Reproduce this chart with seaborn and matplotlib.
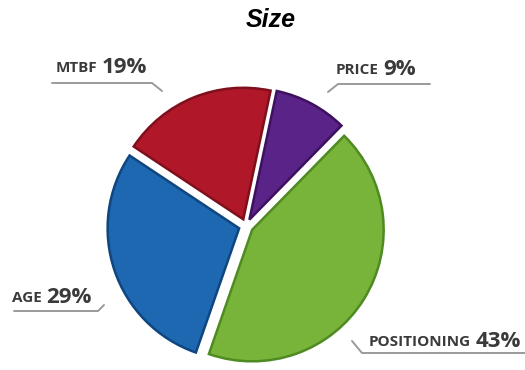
import matplotlib
matplotlib.use("Agg")
import matplotlib.pyplot as plt
from matplotlib.lines import Line2D
import seaborn as sns

# Share of each factor, clockwise from the top
categories = ["PRICE", "POSITIONING", "AGE", "MTBF"]
shares = [9, 43, 29, 19]
fill_colors = ["#5a2387", "#78b43a", "#1d68b0", "#b0182a"]
edge_colors = ["#3e1060", "#4f8a22", "#0f4680", "#7e0f1c"]

sns.set_theme(style="white")
plt.rcParams["font.family"] = ["Open Sans", "DejaVu Sans"]

W, H = 525, 370
fig = plt.figure(figsize=(W / 100, H / 100), dpi=100)
fig.patch.set_facecolor("white")

R = 137  # pie radius in pixels
cx, cy = 246, 370 - 226
half = 1.2 * R
ax = fig.add_axes([(cx - half) / W, (cy - half) / H, 2 * half / W, 2 * half / H])
ax.set_xlim(-1.2, 1.2)
ax.set_ylim(-1.2, 1.2)
ax.set_aspect("equal")
ax.axis("off")

wedges, _ = ax.pie(
    shares,
    startangle=78,
    counterclock=False,
    colors=fill_colors,
    explode=[0.055] * len(shares),
    wedgeprops=dict(linewidth=1.8),
)
for w, ec in zip(wedges, edge_colors):
    w.set_edgecolor(ec)

fig.text(271 / W, 1 - 20 / H, "Size", ha="center", va="center",
         fontsize=18, fontweight="bold", fontstyle="italic",
         family=["Liberation Sans", "DejaVu Sans"], color="black")

label_pos = {
    "MTBF": (56, 68),
    "PRICE": (336, 70),
    "AGE": (12, 298),
    "POSITIONING": (369, 342),
}
underline = {
    "MTBF": [(52, 83), (152, 83), (162, 91)],
    "PRICE": [(328, 92), (338, 84), (430, 84)],
    "AGE": [(14, 311), (98, 311), (104, 305)],
    "POSITIONING": [(352, 341), (362, 353), (525, 353)],
}

for name, val in zip(categories, shares):
    x, y = label_pos[name]
    t = fig.text(x / W, 1 - y / H, name, ha="left", va="center",
                 fontsize=11, fontweight="bold", color="#3a3a3a")
    ax.annotate(f"{val}%", xy=(1, 0.5), xycoords=t, xytext=(3, 0.5),
                textcoords="offset points", ha="left", va="center",
                fontsize=16, fontweight="bold", color="#3a3a3a",
                annotation_clip=False)
    pts = underline[name]
    xs = [p[0] / W for p in pts]
    ys = [1 - p[1] / H for p in pts]
    fig.add_artist(Line2D(xs, ys, color="#9a9a9a", linewidth=1.4,
                          transform=fig.transFigure))

fig.savefig("out.png", dpi=100, facecolor="white")
